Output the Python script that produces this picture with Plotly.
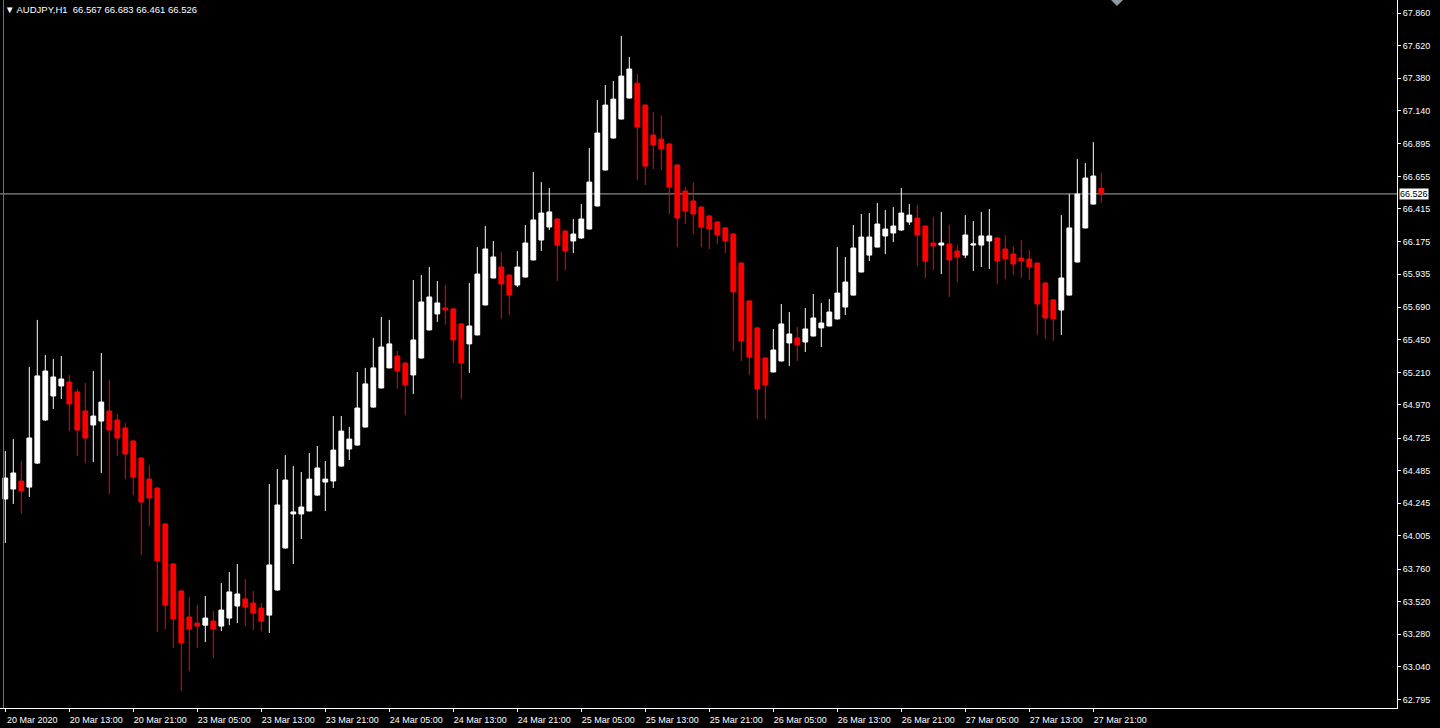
import plotly.graph_objects as go
import pandas as pd

symbol = "AUDJPY,H1"
start_time = "2020-03-20 05:00"

opens = [64.276, 64.350, 64.409, 64.364, 64.541, 64.859, 65.036, 65.110, 65.139, 65.066,
         64.925, 64.822, 64.851, 64.925, 64.859, 64.800, 64.704, 64.578, 64.423, 64.357,
         64.092, 63.797, 63.598, 63.406, 63.361, 63.346, 63.376, 63.339, 63.398, 63.487,
         63.539, 63.509, 63.472, 63.420, 63.605, 63.915, 64.166, 64.166, 64.188, 64.305,
         64.401, 64.409, 64.519, 64.645, 64.674, 64.807, 64.954, 65.095, 65.243, 65.331,
         65.279, 65.191, 65.316, 65.523, 65.641, 65.685, 65.678, 65.567, 65.420, 65.486,
         65.707, 65.906, 65.987, 65.928, 65.854, 65.913, 66.039, 66.186, 66.282, 66.341,
         66.252, 66.179, 66.201, 66.267, 66.437, 66.702, 66.938, 67.078, 67.233, 67.343,
         67.181, 66.960, 66.930, 66.894, 66.739, 66.547, 66.474, 66.429, 66.363, 66.319,
         66.275, 66.230, 66.016, 65.737, 65.538, 65.316, 65.213, 65.294, 65.427, 65.464,
         65.434, 65.478, 65.538, 65.552, 65.604, 65.692, 65.780, 65.950, 66.075, 66.134,
         66.216, 66.238, 66.260, 66.319, 66.348, 66.289, 66.164, 66.149, 66.157, 66.105,
         66.075, 66.149, 66.149, 66.179, 66.201, 66.120, 66.083, 66.053, 66.046, 66.016,
         65.869, 65.744, 65.670, 65.780, 66.024, 66.275, 66.451, 66.567]

highs = [64.630, 64.718, 64.556, 65.250, 65.597, 65.338, 65.309, 65.331, 65.191, 65.088,
         65.132, 65.220, 65.353, 65.154, 64.903, 64.836, 64.711, 64.585, 64.527, 64.364,
         64.099, 63.804, 63.605, 63.554, 63.494, 63.561, 63.450, 63.657, 63.738, 63.797,
         63.686, 63.598, 63.509, 64.387, 64.497, 64.600, 64.519, 64.475, 64.615, 64.667,
         64.556, 64.888, 64.888, 64.807, 65.213, 65.243, 65.464, 65.619, 65.597, 65.368,
         65.282, 65.891, 65.928, 65.987, 65.884, 65.854, 65.686, 65.574, 65.869, 66.134,
         66.289, 66.179, 66.098, 65.930, 66.105, 66.297, 66.687, 66.613, 66.569, 66.348,
         66.260, 66.341, 66.451, 66.864, 67.218, 67.329, 67.358, 67.690, 67.535, 67.410,
         67.188, 67.130, 67.107, 66.901, 66.746, 66.576, 66.613, 66.437, 66.371, 66.326,
         66.282, 66.238, 66.024, 65.744, 65.545, 65.323, 65.530, 65.714, 65.655, 65.545,
         65.685, 65.788, 65.722, 65.751, 66.134, 66.061, 66.297, 66.378, 66.385, 66.459,
         66.407, 66.429, 66.569, 66.451, 66.444, 66.292, 66.356, 66.393, 66.297, 66.149,
         66.370, 66.326, 66.393, 66.415, 66.208, 66.223, 66.142, 66.186, 66.112, 66.024,
         65.876, 65.751, 66.370, 66.525, 66.783, 66.754, 66.908, 66.683]

lows = [63.952, 64.240, 64.166, 64.291, 64.535, 64.852, 64.940, 65.014, 64.777, 64.593,
        64.541, 64.549, 64.468, 64.313, 64.593, 64.423, 64.305, 63.863, 64.077, 63.295,
        63.317, 63.177, 62.860, 63.007, 63.177, 63.221, 63.103, 63.302, 63.346, 63.361,
        63.339, 63.310, 63.302, 63.288, 63.600, 63.910, 63.797, 63.981, 64.185, 64.300,
        64.188, 64.357, 64.515, 64.564, 64.670, 64.805, 64.950, 65.092, 65.240, 65.088,
        64.895, 65.051, 65.313, 65.520, 65.582, 65.560, 65.279, 65.014, 65.206, 65.483,
        65.705, 65.904, 65.604, 65.633, 65.839, 65.910, 66.036, 66.105, 66.260, 65.884,
        65.965, 66.090, 66.194, 66.264, 66.434, 66.700, 66.935, 67.075, 67.230, 66.628,
        66.591, 66.709, 66.702, 66.378, 66.134, 66.304, 66.230, 66.134, 66.120, 66.157,
        66.090, 65.368, 65.294, 65.191, 64.866, 64.866, 65.210, 65.290, 65.257, 65.294,
        65.360, 65.475, 65.397, 65.550, 65.600, 65.633, 65.777, 65.948, 66.031, 66.131,
        66.083, 66.171, 66.252, 66.297, 65.994, 65.906, 65.965, 65.935, 65.766, 65.876,
        66.053, 65.958, 65.987, 65.972, 65.862, 65.898, 65.928, 65.906, 65.891, 65.486,
        65.456, 65.442, 65.486, 65.777, 66.021, 66.272, 66.448, 66.461]

closes = [64.431, 64.468, 64.335, 64.726, 65.184, 65.220, 65.176, 65.161, 64.977, 64.785,
          64.726, 64.888, 64.991, 64.785, 64.726, 64.608, 64.438, 64.254, 64.283, 63.819,
          63.494, 63.391, 63.214, 63.317, 63.339, 63.398, 63.317, 63.457, 63.591, 63.576,
          63.479, 63.435, 63.376, 63.790, 64.232, 64.416, 64.181, 64.217, 64.423, 64.505,
          64.423, 64.637, 64.777, 64.718, 64.947, 65.125, 65.243, 65.397, 65.420, 65.220,
          65.117, 65.449, 65.729, 65.766, 65.722, 65.670, 65.449, 65.279, 65.552, 65.935,
          66.120, 66.061, 65.862, 65.780, 65.987, 66.164, 66.334, 66.385, 66.393, 66.149,
          66.105, 66.230, 66.341, 66.613, 66.975, 67.181, 67.225, 67.395, 67.447, 67.019,
          66.731, 66.886, 66.857, 66.576, 66.348, 66.400, 66.378, 66.282, 66.267, 66.223,
          66.179, 65.803, 65.442, 65.323, 65.088, 65.117, 65.375, 65.567, 65.493, 65.412,
          65.530, 65.611, 65.574, 65.655, 65.795, 65.876, 66.127, 66.208, 66.208, 66.304,
          66.267, 66.289, 66.385, 66.370, 66.223, 66.031, 66.142, 66.164, 66.039, 66.061,
          66.223, 66.157, 66.216, 66.216, 66.031, 66.046, 66.009, 66.031, 65.987, 65.714,
          65.611, 65.604, 65.906, 66.275, 66.525, 66.643, 66.658, 66.526]

price_ticks = [67.860, 67.620, 67.380, 67.140, 66.895, 66.655, 66.415, 66.175, 65.935,
               65.690, 65.450, 65.210, 64.970, 64.725, 64.485, 64.245, 64.005, 63.760,
               63.520, 63.280, 63.040, 62.795]

# hourly bars, forex week (weekend skipped)
times = []
t = pd.Timestamp(start_time)
while len(times) < len(opens):
    if t.weekday() < 5:
        times.append(t)
    t += pd.Timedelta(hours=1)

x = list(range(len(opens)))
tick_idx = list(range(0, len(opens), 8))
tick_text = []
for i in tick_idx:
    if i == 0:
        tick_text.append(times[i].strftime("%d %b %Y"))
    else:
        tick_text.append(times[i].strftime("%d %b %H:%M"))

FONT = "Liberation Sans, Arial, sans-serif"
PLOT_W, PLOT_H = 1397, 708

fig = go.Figure(go.Candlestick(
    x=x, open=opens, high=highs, low=lows, close=closes,
    increasing=dict(line=dict(color="#ffffff", width=1), fillcolor="#ffffff"),
    decreasing=dict(line=dict(color="#ff0000", width=1), fillcolor="#ff0000"),
    whiskerwidth=0, showlegend=False, hoverinfo="skip",
))

last = closes[-1]
fig.add_shape(type="line", xref="paper", x0=0, x1=1, yref="y", y0=last, y1=last,
              line=dict(color="#a8aab0", width=1), layer="below")

# left frame line of the chart window
fig.add_shape(type="line", xref="paper", x0=3.5 / PLOT_W, x1=3.5 / PLOT_W,
              yref="paper", y0=0, y1=1, line=dict(color="#707070", width=1))

# chart-shift marker at the top edge
sx = 1117 / PLOT_W
fig.add_shape(type="path", xref="paper", yref="paper",
              path=f"M {sx - 6 / PLOT_W} 1 L {sx + 6 / PLOT_W} 1 L {sx} {1 - 6 / PLOT_H} Z",
              fillcolor="#8c99a6", line=dict(width=0))

fig.add_annotation(xref="paper", x=1, xanchor="left", xshift=2, yref="y", y=last,
                   text=f"{last:.3f}", showarrow=False, bgcolor="#ffffff",
                   font=dict(family=FONT, size=9, color="#000000"), borderpad=0)

fig.add_annotation(xref="paper", x=0, xanchor="left", xshift=3, yref="paper", y=1,
                   yanchor="top", yshift=-2,
                   text=f"▼ {symbol}  {opens[-1]:.3f} {highs[-1]:.3f} {lows[-1]:.3f} {closes[-1]:.3f}",
                   showarrow=False, font=dict(family=FONT, size=9.5, color="#ffffff"))

fig.update_layout(
    width=1440, height=728,
    margin=dict(l=0, r=1440 - PLOT_W, t=0, b=728 - PLOT_H, autoexpand=False),
    paper_bgcolor="#000000", plot_bgcolor="#000000",
    boxgap=0.4, boxgroupgap=0,
    showlegend=False,
    xaxis=dict(range=[-0.6625, 173.96], showgrid=False, zeroline=False,
               showline=True, linecolor="#ffffff", linewidth=1,
               ticks="outside", ticklen=3, tickcolor="#ffffff",
               tickvals=tick_idx, ticktext=tick_text, ticklabelshift=27,
               ticklabelstandoff=0,
               tickfont=dict(family=FONT, size=9, color="#ffffff"),
               rangeslider=dict(visible=False), fixedrange=True),
    yaxis=dict(side="right", range=[62.735, 67.956], showgrid=False, zeroline=False,
               showline=True, linecolor="#ffffff", linewidth=1,
               ticks="outside", ticklen=3, tickcolor="#ffffff",
               tickvals=price_ticks, ticktext=[f"{p:.3f}" for p in price_ticks],
               tickfont=dict(family=FONT, size=9, color="#ffffff"), fixedrange=True),
)

fig.write_html("out.html", config={"displayModeBar": False},
               post_script="document.body.style.margin='0';")
